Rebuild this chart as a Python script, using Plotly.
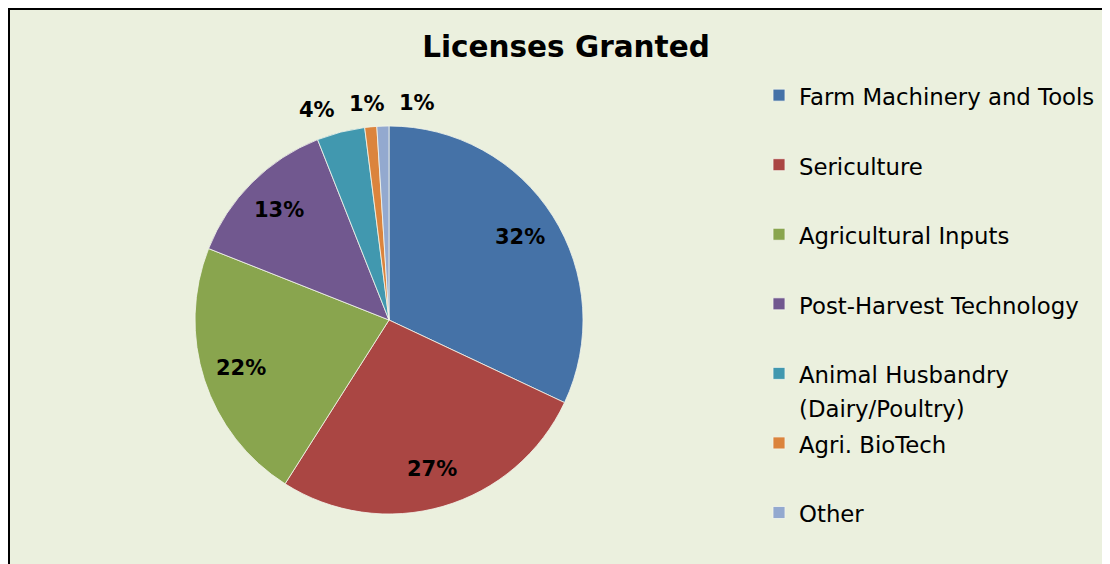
import math
import plotly.graph_objects as go

# ---- data ----
labels = ["Farm Machinery and Tools", "Sericulture", "Agricultural Inputs",
          "Post-Harvest Technology", "Animal Husbandry (Dairy/Poultry)",
          "Agri. BioTech", "Other"]
shares = [32, 27, 22, 13, 4, 1, 1]
colors = ["#4572A7", "#AA4643", "#89A54E", "#71588F", "#4198AF", "#DB843D", "#93A9CF"]

# ---- layout geometry (px, figure coords; page adds an 8px body margin) ----
W, H = 1110, 564
cx, cy, R = 381, 312, 194
FONT = "DejaVu Sans"
BG = "#EBF0DE"

# legend text: big glyphs, lines spaced by the legend font size
def legend_text(name, last):
    if name.startswith("Animal"):
        parts = ["Animal Husbandry", "(Dairy/Poultry)"]
    elif last:
        parts = [name]
    else:
        parts = [name, " "]
    return "<br>".join('<span style="font-size:22.8px">%s</span>' % p for p in parts)

legend_labels = [legend_text(n, i == len(labels) - 1) for i, n in enumerate(labels)]

fig = go.Figure()
fig.add_trace(go.Pie(
    labels=legend_labels,
    values=shares,
    sort=False,
    direction="clockwise",
    rotation=0,
    marker=dict(colors=colors, line=dict(color="#F4F6EC", width=0.8)),
    textinfo="none",
    hoverinfo="label+percent",
    domain=dict(x=[(cx - R) / W, (cx + R) / W],
                y=[1 - (cy + R) / H, 1 - (cy - R) / H]),
))

# percentage labels, placed along each slice's mid angle
total = sum(shares)
annos = []
outside = []
cum = 0
for v in shares:
    mid = (cum + v / 2) / total * 2 * math.pi
    cum += v
    pct = "%d%%" % round(100 * v / total)
    if v / total >= 0.05:
        r = 0.8 * R
        annos.append((cx + r * math.sin(mid), cy - r * math.cos(mid), pct))
    else:
        r = 1.12 * R
        outside.append([cx + r * math.sin(mid), cy - r * math.cos(mid), pct])

# spread the crowded outside labels so they do not overlap
if outside:
    mean_x = sum(o[0] for o in outside) / len(outside) + 5
    gap = 50
    for i, o in enumerate(outside):
        o[0] = mean_x + (i - (len(outside) - 1) / 2) * gap
    annos += [tuple(o) for o in outside]

for x, y, t in annos:
    fig.add_annotation(x=x / W, y=1 - y / H, xref="paper", yref="paper",
                       xanchor="center", yanchor="middle",
                       text=t, showarrow=False,
                       font=dict(family=FONT, size=21, color="black", weight="bold"))

# black frame on the left and top of the chart area
fig.add_shape(type="line", xref="paper", yref="paper",
              x0=1 / W, x1=1 / W, y0=0, y1=1, line=dict(color="black", width=2))
fig.add_shape(type="line", xref="paper", yref="paper",
              x0=0, x1=1, y0=1 - 1 / H, y1=1 - 1 / H, line=dict(color="black", width=2))

fig.update_layout(
    width=W, height=H,
    margin=dict(l=0, r=0, t=0, b=0, autoexpand=False),
    paper_bgcolor=BG,
    plot_bgcolor=BG,
    font=dict(family=FONT, color="black"),
    title=dict(text="Licenses Granted", x=558 / W, xanchor="center",
               y=1 - 39 / H, yanchor="middle",
               font=dict(family=FONT, size=29.5, color="black", weight="bold")),
    legend=dict(x=751 / W, xanchor="left", y=1 - 64 / H, yanchor="top",
                font=dict(family=FONT, size=25.6, color="black"),
                valign="top", traceorder="normal", bgcolor="rgba(0,0,0,0)"),
)

fig.write_html("out.html")
